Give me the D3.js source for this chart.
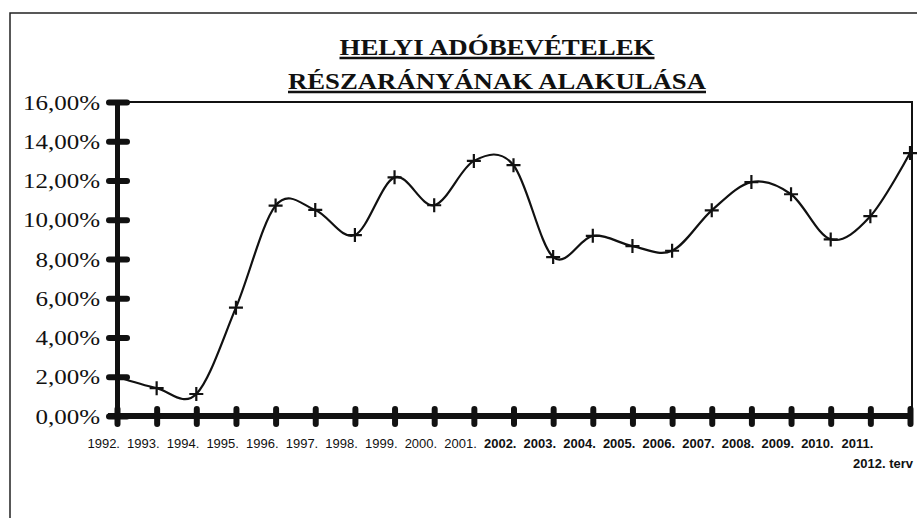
<!DOCTYPE html>
<html>
<head>
<meta charset="utf-8">
<script src="https://cdn.jsdelivr.net/npm/d3@7"></script>
<style>
  body { margin: 0; background: #fff; }
  svg { display: block; }
</style>
</head>
<body>
<div id="chart"></div>
<script>
const WIDTH = 917;
const HEIGHT = 518;

const years = ['1992.', '1993.', '1994.', '1995.', '1996.', '1997.', '1998.', '1999.', '2000.',
    '2001.', '2002.', '2003.', '2004.', '2005.', '2006.', '2007.', '2008.', '2009.', '2010.',
    '2011.', '2012. terv'];
const shares = [0.0200, 0.0142, 0.0112, 0.0552, 0.1072, 0.1050, 0.0922, 0.1216, 0.1074,
    0.1300, 0.1278, 0.0810, 0.0918, 0.0866, 0.0842, 0.1048, 0.1192, 0.1130, 0.0900,
    0.1018, 0.1340];
const yTicks = [0, 0.02, 0.04, 0.06, 0.08, 0.10, 0.12, 0.14, 0.16];
const titleLines = ['HELYI ADÓBEVÉTELEK', 'RÉSZARÁNYÁNAK ALAKULÁSA'];

const PLOT = {left: 117, right: 910, top: 102, bottom: 416};

let svg = d3.select('#chart').append('svg')
    .attr('width', WIDTH)
    .attr('height', HEIGHT);

// outer frame (only top and left edges show in the scan)
svg.append('path')
    .attr('d', 'M10 518 L10 13 L917 13')
    .attr('fill', 'none')
    .attr('stroke', '#222')
    .attr('stroke-width', 1.5);

// title
const titleY = [55, 89];
const titleW = [315, 418];
titleLines.forEach((t, i) => {
    svg.append('text')
        .attr('x', 497)
        .attr('y', titleY[i])
        .attr('text-anchor', 'middle')
        .attr('font-family', 'Liberation Serif, Times New Roman, serif')
        .attr('font-weight', 'bold')
        .attr('font-size', 24)
        .attr('textLength', titleW[i])
        .attr('lengthAdjust', 'spacingAndGlyphs')
        .attr('fill', '#111')
        .text(t);
    svg.append('line')
        .attr('x1', 497 - titleW[i] / 2)
        .attr('x2', 497 + titleW[i] / 2)
        .attr('y1', titleY[i] + 3)
        .attr('y2', titleY[i] + 3)
        .attr('stroke', '#111')
        .attr('stroke-width', 2.5);
});

let x = d3.scalePoint()
    .domain(years)
    .range([PLOT.left, PLOT.right]);

let y = d3.scaleLinear()
    .domain([0, 0.16])
    .range([PLOT.bottom, PLOT.top]);

// top and right edges of the plot area
svg.append('path')
    .attr('d', 'M' + PLOT.left + ' ' + PLOT.top + 'L' + (PLOT.right + 2) + ' ' + PLOT.top +
        'L' + (PLOT.right + 2) + ' ' + PLOT.bottom)
    .attr('fill', 'none')
    .attr('stroke', '#111')
    .attr('stroke-width', 2);

// y axis
let yAxis = svg.append('g')
    .attr('transform', 'translate(' + PLOT.left + ',0)')
    .call(d3.axisLeft(y)
        .tickValues(yTicks)
        .tickSize(0)
        .tickPadding(17)
        .tickFormat(d => d3.format('.2f')(d * 100).replace('.', ',') + '%'));
yAxis.select('.domain')
    .attr('stroke', '#111')
    .attr('stroke-width', 5);
yAxis.selectAll('.tick')
    .append('line')
    .attr('x1', -8).attr('x2', 10)
    .attr('stroke', '#111')
    .attr('stroke-width', 6)
    .attr('stroke-linecap', 'round');
yAxis.selectAll('.tick text')
    .attr('font-family', 'Liberation Serif, Times New Roman, serif')
    .attr('font-size', 20)
    .attr('fill', '#111')
    .attr('dy', '0.35em')
    .each(function() {
        // the scan is stretched sideways, widen the labels to match
        let w = this.getComputedTextLength();
        d3.select(this)
            .attr('textLength', w * 1.25)
            .attr('lengthAdjust', 'spacingAndGlyphs');
    });

// x axis
let xAxis = svg.append('g')
    .attr('transform', 'translate(0,' + PLOT.bottom + ')')
    .call(d3.axisBottom(x).tickSize(0).tickFormat(''));
xAxis.select('.domain')
    .attr('d', 'M' + (PLOT.left - 9) + ' 0 L' + (PLOT.right + 2) + ' 0')
    .attr('stroke', '#111')
    .attr('stroke-width', 6);
xAxis.selectAll('.tick')
    .append('line')
    .attr('y1', -7).attr('y2', 8)
    .attr('stroke', '#111')
    .attr('stroke-width', 6)
    .attr('stroke-linecap', 'round');

// year labels, ending at their tick; the long last one drops a line
svg.append('g')
    .selectAll('text')
    .data(years)
    .enter()
    .append('text')
    .attr('x', d => x(d) + 3)
    .attr('y', (d, i) => PLOT.bottom + (i === years.length - 1 ? 52 : 32))
    .attr('text-anchor', 'end')
    .attr('font-family', 'Liberation Sans, Arial, sans-serif')
    .attr('font-size', 13)
    .attr('font-weight', (d, i) => i >= 10 ? 'bold' : 'normal')
    .attr('fill', '#111')
    .text(d => d);

// smoothed line
let line = d3.line()
    .x((d, i) => x(years[i]))
    .y(d => y(d))
    .curve(d3.curveCardinal.tension(0));

svg.append('path')
    .attr('d', line(shares))
    .attr('fill', 'none')
    .attr('stroke', '#111')
    .attr('stroke-width', 2.2);

// plus markers
svg.selectAll('path.marker')
    .data(shares)
    .enter()
    .append('path')
    .attr('class', 'marker')
    .attr('d', (d, i) => {
        let cx = x(years[i]), cy = y(d);
        return 'M' + (cx - 7) + ' ' + cy + 'L' + (cx + 7) + ' ' + cy +
            'M' + cx + ' ' + (cy - 7) + 'L' + cx + ' ' + (cy + 7);
    })
    .attr('stroke', '#111')
    .attr('stroke-width', 2.2);
</script>
</body>
</html>
